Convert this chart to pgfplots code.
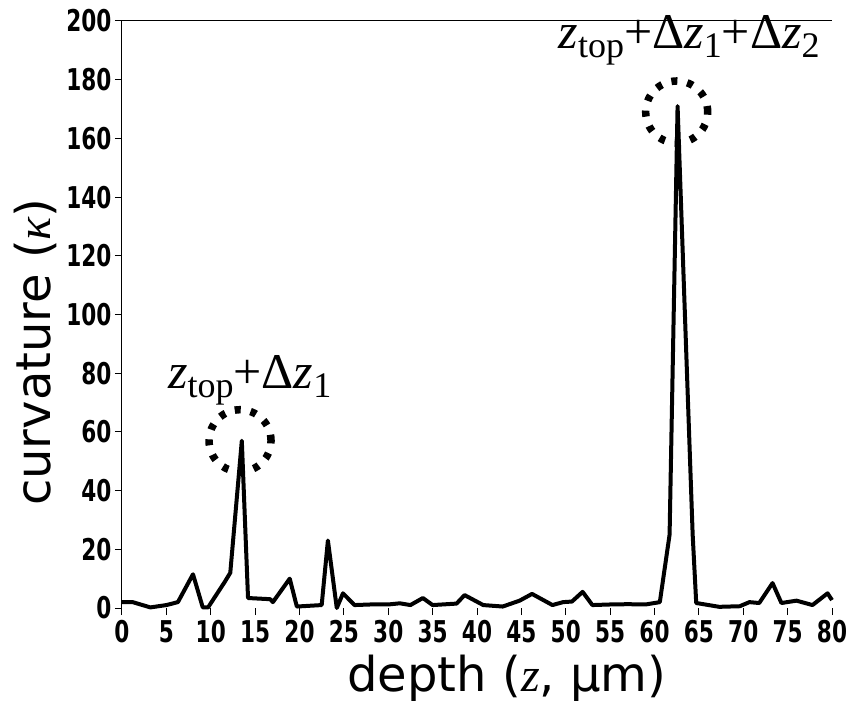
\documentclass[border=0pt]{standalone}
\usepackage{fontspec}
\usepackage{pgfplots}
\pgfplotsset{compat=1.18}
\setmainfont{DejaVu Sans}
\newfontfamily\tickfont[FakeStretch=0.72]{DejaVu Sans}
\newfontfamily\timesfont{Liberation Serif}
\newcommand\sub[1]{\lower9pt\hbox{\fontsize{36}{36}\selectfont #1}}

\begin{document}
\begin{tikzpicture}
\path[use as bounding box] (-122pt,-107pt) rectangle (729pt,608pt);
\begin{axis}[
    scale only axis,
    width=710pt, height=587pt,
    xmin=0, xmax=80, ymin=0, ymax=200,
    axis lines*=left,
    axis line style={-, line width=1pt},
    x axis line style={draw=none},
    xtick={0,5,...,80},
    ytick={0,20,...,200},
    tick align=outside,
    major tick length=7pt,
    tick style={black, line width=1pt},
    /pgf/number format/assume math mode=true,
    ticklabel style={font=\tickfont\bfseries\fontsize{30}{30}\selectfont},
    xticklabel style={yshift=-2pt},
    xlabel={depth ({\timesfont\itshape z}, µm)},
    ylabel={curvature ({\timesfont\itshape κ})},
    label style={font=\fontsize{48}{48}\selectfont},
    xlabel style={at={(axis description cs:0.542,-0.119)}, anchor=center},
    ylabel style={at={(axis description cs:-0.1225,0.436)}, anchor=center},
    clip=false,
]
% curvature profile
\addplot[black, line width=4pt, line join=round] coordinates {
    (0,2) (1.2,2) (3.2,0.2) (5,1) (6.3,2) (8,11.5) (9.1,0.2) (9.7,0.2)
    (11.6,9) (12.2,12) (13.5,57) (14.2,3.4) (16.7,3) (17,2)
    (18.9,10) (19.7,0.5) (22.5,1) (23.2,23) (24.2,0) (24.9,5) (26.2,1)
    (28,1.2) (30,1.2) (31.3,1.6) (32.5,1) (33.9,3.4) (35,1) (37.7,1.5)
    (38.6,4.4) (40.7,1) (42.9,0.5) (44.8,2.5) (46.2,4.8) (48.5,1) (49.7,2)
    (50.7,2.2) (51.9,5.5) (53,1) (55,1.2) (57,1.3) (59,1.2) (60.6,2)
    (61.7,25) (62.6,171) (64.3,25) (64.7,1.7) (67.3,0.4) (69.6,0.6)
    (70.7,2) (71.8,1.7) (73.3,8.5) (74.3,1.7) (76,2.5) (77.8,1) (79.5,5) (80,2.7)
};
\draw[line width=1pt] (axis cs:0,200) -- (axis cs:80,200);
\draw[line width=7.5pt, dash pattern=on 6pt off 10pt] (axis cs:13.3,57) circle[radius=31pt];
\draw[line width=7.5pt, dash pattern=on 6pt off 10pt] (axis cs:62.5,169) circle[radius=31pt];
\node[font=\timesfont\fontsize{50}{50}\selectfont] at (axis cs:14.4,77.7)
    {\textit{z}\sub{top}+Δ\textit{z}\sub{1}};
\node[font=\timesfont\fontsize{50}{50}\selectfont] at (axis cs:63.9,193.5)
    {\textit{z}\sub{top}+Δ\textit{z}\sub{1}+Δ\textit{z}\sub{2}};
\end{axis}
\end{tikzpicture}
\end{document}
